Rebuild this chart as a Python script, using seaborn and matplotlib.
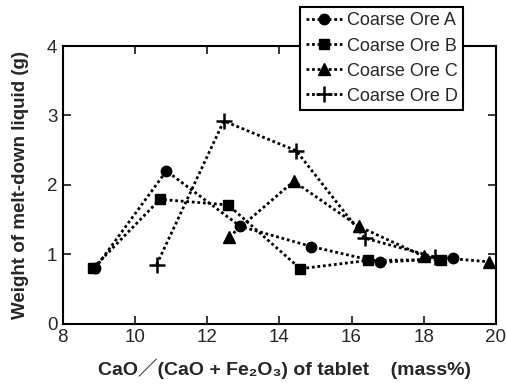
import matplotlib
matplotlib.use("Agg")
import matplotlib.pyplot as plt
import seaborn as sns
import pandas as pd

# Melt-down liquid weight vs. basicity of tablet, per coarse ore
ore_a_x = [8.9, 10.87, 12.92, 14.89, 16.8, 18.8]
ore_a_y = [0.80, 2.20, 1.40, 1.11, 0.88, 0.95]

ore_b_x = [8.84, 10.69, 12.58, 14.58, 16.46, 18.49]
ore_b_y = [0.80, 1.79, 1.71, 0.79, 0.91, 0.92]

ore_c_x = [12.61, 14.4, 16.2, 18.0, 19.8]
ore_c_y = [1.25, 2.05, 1.40, 0.97, 0.89]

ore_d_x = [10.6, 12.46, 14.47, 16.37, 18.3]
ore_d_y = [0.85, 2.92, 2.49, 1.23, 0.96]

series_names = ["Coarse Ore A", "Coarse Ore B", "Coarse Ore C", "Coarse Ore D"]
x_ticks = [8, 10, 12, 14, 16, 18, 20]
y_ticks = [0, 1, 2, 3, 4]

frames = []
for name, xs, ys in zip(series_names,
                        [ore_a_x, ore_b_x, ore_c_x, ore_d_x],
                        [ore_a_y, ore_b_y, ore_c_y, ore_d_y]):
    frames.append(pd.DataFrame({"x": xs, "y": ys, "ore": name}))
data = pd.concat(frames, ignore_index=True)

sns.set_style("ticks")
plt.rcParams["font.family"] = ["Liberation Sans", "DejaVu Sans", "Noto Sans CJK JP"]

fig = plt.figure(figsize=(5.07, 3.87), dpi=100)
ax = fig.add_axes([0.124, 0.164, 0.854, 0.717])

marker_styles = {"Coarse Ore A": ("o", 7.5, 1.0),
                 "Coarse Ore B": ("s", 7.5, 1.0),
                 "Coarse Ore C": ("^", 8, 1.0),
                 "Coarse Ore D": ("+", 12, 1.8)}

for name in series_names:
    sub = data[data["ore"] == name]
    mk, ms, mew = marker_styles[name]
    sns.lineplot(data=sub, x="x", y="y", ax=ax, color="black",
                 linestyle=(0, (1, 1)), linewidth=2.0,
                 marker=mk, markersize=ms, markeredgewidth=mew,
                 markeredgecolor="black", markerfacecolor="black",
                 label=name, sort=False, estimator=None)

ax.set_xlim(8, 20)
ax.set_ylim(0, 4)
ax.set_xticks(x_ticks)
ax.set_yticks(y_ticks)
ax.tick_params(direction="in", length=6, width=1.3, labelsize=13.5,
               top=True, right=True, pad=4)
for sp in ax.spines.values():
    sp.set_linewidth(1.5)
    sp.set_color("black")

ax.set_xlabel("CaO／(CaO + Fe₂O₃) of tablet    (mass%)",
              fontsize=14, fontweight="bold", labelpad=9)
ax.xaxis.label.set_x(0.512)
ax.set_ylabel("Weight of melt-down liquid (g)",
              fontsize=13.5, fontweight="bold", labelpad=13)

leg = ax.legend(loc="upper left", bbox_to_anchor=(0.592, 0.982),
                bbox_transform=fig.transFigure, borderaxespad=0,
                fontsize=13, frameon=True, fancybox=False,
                handlelength=2.0, handletextpad=0.3, labelspacing=0.45,
                borderpad=0.3, markerscale=1.0)
leg.get_frame().set_edgecolor("black")
leg.get_frame().set_linewidth(1.5)
leg.get_frame().set_facecolor("white")
leg.get_frame().set_alpha(1)

fig.savefig("out.png", dpi=100)
